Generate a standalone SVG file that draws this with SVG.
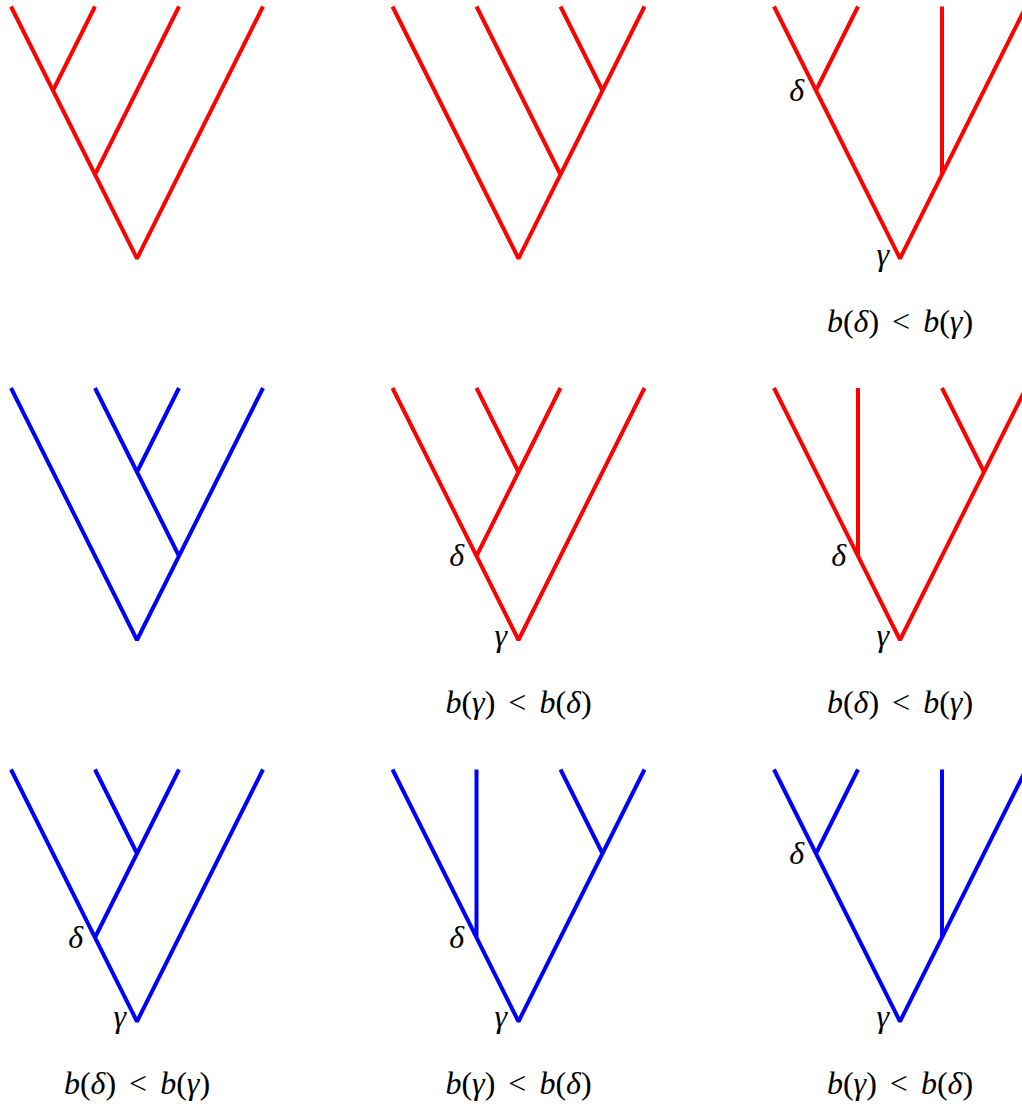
<svg xmlns="http://www.w3.org/2000/svg" width="1022" height="1108" viewBox="0 0 1022 1108">
<style>
  .r { fill: none; stroke: #ff0000; stroke-width: 4; stroke-linejoin: bevel; stroke-linecap: butt; }
  .b { fill: none; stroke: #0000ff; stroke-width: 4; stroke-linejoin: bevel; stroke-linecap: butt; }
  text { font-family: 'Liberation Serif', 'Times New Roman', 'DejaVu Serif', serif; fill: #000; }
  .lbl { font-style: italic; font-size: 32px; text-anchor: end; }
  .cap { font-size: 32px; text-anchor: middle; word-spacing: 5px; }
  .it { font-style: italic; }
</style>
<rect width="1022" height="1108" fill="#ffffff"/>
<g id="connectors">
  <g id="tree1">
    <path class="r" d="M11 6.5 L137 258.5 L263 6.5 M53 90.5 L95 6.5 M95 174.5 L179 6.5"/>
  </g>
  <g id="tree2">
    <path class="r" d="M392.5 6.5 L518.5 258.5 L644.5 6.5 M560.5 174.5 L476.5 6.5 M602.5 90.5 L560.5 6.5"/>
  </g>
  <g id="tree3">
    <path class="r" d="M774 6.5 L900 258.5 L1026 6.5 M816 90.5 L858 6.5 M942 174.5 L942 6.5"/>
    <text class="lbl" x="804" y="101">δ</text>
    <text class="lbl" x="889" y="265">γ</text>
    <text class="cap" x="900" y="332"><tspan class="it">b</tspan>(<tspan class="it">δ</tspan>) &lt; <tspan class="it">b</tspan>(<tspan class="it">γ</tspan>)</text>
  </g>
  <g id="tree4">
    <path class="b" d="M11 388 L137 640 L263 388 M179 556 L137 472 L95 388 M137 472 L179 388"/>
  </g>
  <g id="tree5">
    <path class="r" d="M392.5 388 L518.5 640 L644.5 388 M476.5 556 L518.5 472 L560.5 388 M518.5 472 L476.5 388"/>
    <text class="lbl" x="464" y="566">δ</text>
    <text class="lbl" x="507" y="646">γ</text>
    <text class="cap" x="518.5" y="713"><tspan class="it">b</tspan>(<tspan class="it">γ</tspan>) &lt; <tspan class="it">b</tspan>(<tspan class="it">δ</tspan>)</text>
  </g>
  <g id="tree6">
    <path class="r" d="M774 388 L900 640 L1026 388 M858 556 L858 388 M984 472 L942 388"/>
    <text class="lbl" x="846" y="566">δ</text>
    <text class="lbl" x="889" y="646">γ</text>
    <text class="cap" x="900" y="713"><tspan class="it">b</tspan>(<tspan class="it">δ</tspan>) &lt; <tspan class="it">b</tspan>(<tspan class="it">γ</tspan>)</text>
  </g>
  <g id="tree7">
    <path class="b" d="M11 769.5 L137 1021.5 L263 769.5 M95 937.5 L137 853.5 L179 769.5 M137 853.5 L95 769.5"/>
    <text class="lbl" x="83" y="948">δ</text>
    <text class="lbl" x="126" y="1027">γ</text>
    <text class="cap" x="137" y="1094"><tspan class="it">b</tspan>(<tspan class="it">δ</tspan>) &lt; <tspan class="it">b</tspan>(<tspan class="it">γ</tspan>)</text>
  </g>
  <g id="tree8">
    <path class="b" d="M392.5 769.5 L518.5 1021.5 L644.5 769.5 M476.5 937.5 L476.5 769.5 M602.5 853.5 L560.5 769.5"/>
    <text class="lbl" x="464" y="948">δ</text>
    <text class="lbl" x="507" y="1027">γ</text>
    <text class="cap" x="518.5" y="1094"><tspan class="it">b</tspan>(<tspan class="it">γ</tspan>) &lt; <tspan class="it">b</tspan>(<tspan class="it">δ</tspan>)</text>
  </g>
  <g id="tree9">
    <path class="b" d="M774 769.5 L900 1021.5 L1026 769.5 M816 853.5 L858 769.5 M942 937.5 L942 769.5"/>
    <text class="lbl" x="804" y="864">δ</text>
    <text class="lbl" x="889" y="1027">γ</text>
    <text class="cap" x="900" y="1094"><tspan class="it">b</tspan>(<tspan class="it">γ</tspan>) &lt; <tspan class="it">b</tspan>(<tspan class="it">δ</tspan>)</text>
  </g>
</g>
</svg>
